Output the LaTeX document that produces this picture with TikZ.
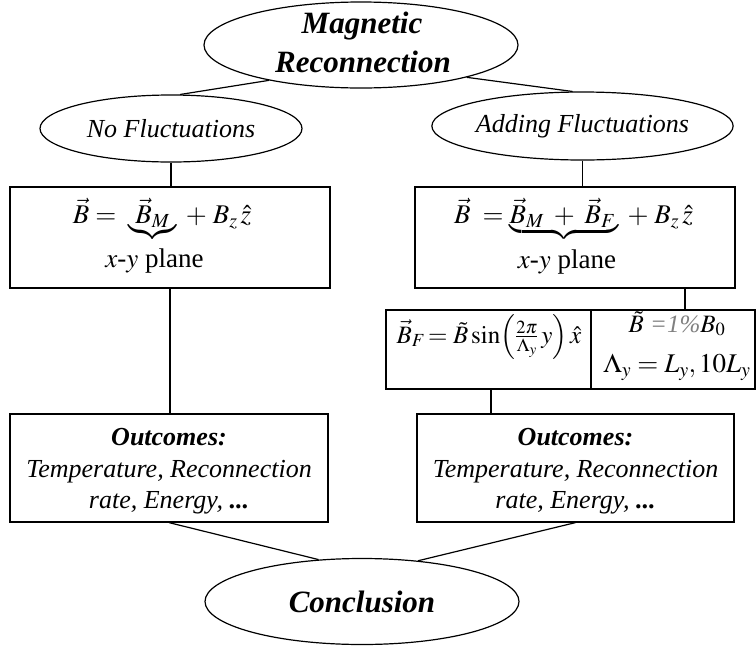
\documentclass[tikz,border=0pt]{standalone}
\usepackage{amsmath}
\usepackage{mathptmx}
\usepackage[no-math]{fontspec}
\setmainfont{Liberation Serif}
\usetikzlibrary{shapes.geometric}
\tikzset{
  conn/.style={line width=1.2pt},
  ell/.style={draw, ellipse, line width=1.2pt, inner sep=0pt},
  box/.style={draw, rectangle, line width=1.2pt, inner sep=0pt},
  txt/.style={anchor=base, inner sep=0pt},
  itf/.style={font=\fontsize{26}{30}\selectfont\itshape},
  bif/.style={font=\fontsize{31}{36}\selectfont\bfseries\itshape},
  bis/.style={font=\fontsize{26}{30}\selectfont\bfseries\itshape},
  mf/.style={font=\fontsize{27}{31}\selectfont},
  ms/.style={font=\fontsize{25}{29}\selectfont},
  ml/.style={font=\fontsize{27}{31}\selectfont},
}
\begin{document}
\begin{tikzpicture}[x=1pt,y=-1pt]
\useasboundingbox (0,0) rectangle (756,646);

% top ellipse
\node[ell, minimum width=314pt, minimum height=86pt] (top) at (361,45) {};
\node[bif, txt] (t1) at (362,33) {Magnetic};
\node[bif, txt] (t2) at (363,72) {Reconnection};

\node[ell, itf, minimum width=262pt, minimum height=67pt] (nf) at (171,128.5) {No Fluctuations};
\node[ell, itf, minimum width=261pt, minimum height=68pt] (af) at (582.5,126) {Adding Fluctuations};

% field boxes
\node[box, minimum width=320pt, minimum height=101pt] (b1) at (170,237.5) {};
\node[mf, txt] (b1a) at (162,223) {$\vec{B} = \;\underbrace{\;\vec{B}_M\;}\; + \;B_z\,\hat{z}$};
\node[mf, txt] (b1b) at (154.5,267) {$x$-$y$ plane};

\node[box, minimum width=320pt, minimum height=101pt] (b2) at (575,237.5) {};
\node[mf, txt] (b2a) at (573.5,223) {$\vec{B} \;= \underbrace{\vec{B}_M \;+\; \vec{B}_F\,}\; + \;B_z\,\hat{z}$};
\node[mf, txt] (b2b) at (567,268) {$x$-$y$ plane};

% fluctuation box
\node[box, minimum width=205pt, minimum height=79pt] (fa) at (488.5,349.5) {};
\node[box, minimum width=164pt, minimum height=79pt] (fb) at (673,349.5) {};
\node[ms, txt] (fat) at (489,343) {$\vec{B}_F\!= \tilde{B}\sin\Bigl(\frac{2\pi}{\Lambda_y}\,y\Bigr)\,\hat{x}$};
\node[ms, txt] (fbt1) at (677,332) {$\tilde{B}$ \textcolor[gray]{0.5}{\textit{=1\%}}$B_0$};
\node[ml, txt] (fbt2) at (677,372) {$\Lambda_y = L_y, 10L_y$};

% outcomes
\node[box, minimum width=318pt, minimum height=108pt] (o1) at (169,468) {};
\node[bis, txt] (o1a) at (169,445) {Outcomes:};
\node[itf, txt] (o1b) at (169,477) {Temperature, Reconnection};
\node[itf, txt] (o1c) at (169,508) {rate, Energy, \textbf{...}};

\node[box, minimum width=317pt, minimum height=108pt] (o2) at (575.5,468) {};
\node[bis, txt] (o2a) at (575.5,445) {Outcomes:};
\node[itf, txt] (o2b) at (575.5,477) {Temperature, Reconnection};
\node[itf, txt] (o2c) at (575.5,508) {rate, Energy, \textbf{...}};

% conclusion
\node[ell, bif, minimum width=314pt, minimum height=86pt] (cc) at (362,601.5) {Conclusion};

% connectors
\draw[conn] (top.201) -- (nf.75);
\draw[conn] (top.-17) -- (af.106);
\draw[conn] (nf.south) -- (nf.south |- b1.north);
\draw[conn] (af.south) -- (af.south |- b2.north);
\draw[conn] (b1.south) -- (b1.south |- o1.north);
\draw[conn] ([xshift=12pt]fb.north) -- ([xshift=12pt]fb.north |- b2.south);
\draw[conn] ([xshift=2.5pt]fa.south) -- ([xshift=2.5pt]fa.south |- o2.north);
\draw[conn] (o1.south) -- (cc.136);
\draw[conn] (o2.south) -- (cc.36);
\end{tikzpicture}
\end{document}
